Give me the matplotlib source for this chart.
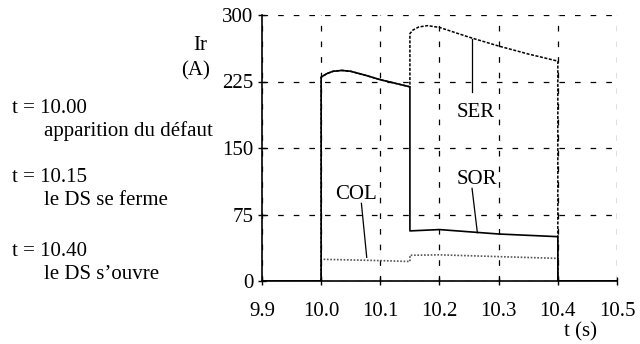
# Courant Ir dans les branches SER / SOR / COL autour du defaut
import numpy as np
import matplotlib
matplotlib.use('Agg')
import matplotlib.pyplot as plt

plt.rcParams['font.family'] = ['Liberation Serif', 'DejaVu Serif']
plt.rcParams['font.size'] = 15

# Data
t_ser = [9.9, 10.0, 10.0, 10.01, 10.02, 10.035, 10.05, 10.075, 10.1, 10.125, 10.15,
         10.15, 10.155, 10.165, 10.18, 10.2, 10.25, 10.3, 10.35, 10.4, 10.4, 10.5]
ser = [0, 0, 230, 234, 236.5, 237.5, 236.5, 232, 227, 223, 219,
       279, 283, 286.5, 288, 286, 275, 265, 256, 248, 0, 0]

t_sor = [9.9, 10.0, 10.0, 10.01, 10.02, 10.035, 10.05, 10.075, 10.1, 10.125, 10.15,
         10.15, 10.2, 10.25, 10.3, 10.35, 10.4, 10.4, 10.5]
sor = [0, 0, 230, 234, 236.5, 237.5, 236.5, 232, 227, 223, 219,
       56.5, 58, 55.5, 53, 51.5, 50, 0, 0]

t_col = [9.9, 10.0, 10.0, 10.1, 10.15, 10.15, 10.2, 10.3, 10.4, 10.4, 10.5]
col = [0, 0, 24.5, 23, 22, 29, 29.5, 27.5, 25.5, 0, 0]

xticks = [9.9, 10.0, 10.1, 10.2, 10.3, 10.4, 10.5]
yticks = [0, 75, 150, 225, 300]

events = ['t = 10.00', 't = 10.15', 't = 10.40']
event_txt = ['apparition du défaut', 'le DS se ferme', 'le DS s\u2019ouvre']

fig = plt.figure(figsize=(6.4, 3.44), dpi=100)
ax = fig.add_axes([262/640, 63/344, 355/640, 266/344])

ax.plot(t_col, col, color='#555555', lw=1.2, ls=(0, (1, 1)))
ax.plot(t_sor, sor, color='black', lw=1.2)
ax.plot(t_ser, ser, color='black', lw=1.1, ls=(0, (2, 1)))

ax.set_xlim(9.9, 10.5)
ax.set_ylim(0, 300)
ax.set_xticks(xticks)
ax.set_xticklabels(['%.1f' % v for v in xticks])
ax.set_yticks(yticks)
ax.tick_params(direction='inout', length=6, width=1)
ax.tick_params(axis='x', pad=12)
ax.tick_params(axis='y', pad=3)
ax.grid(True, color='black', lw=0.9, ls=(0, (4.5, 8)))
for s in ['top', 'right']:
    ax.spines[s].set_visible(False)
for s in ['left', 'bottom']:
    ax.spines[s].set_linewidth(1.2)

# curve labels with pointer lines
ax.text(10.262, 190, 'SER', ha='center', va='center')
ax.plot([10.255, 10.255], [273, 213], color='black', lw=0.9)
ax.text(10.263, 115, 'SOR', ha='center', va='center')
ax.plot([10.255, 10.264], [104.5, 54.5], color='black', lw=0.9)
ax.text(10.059, 97, 'COL', ha='center', va='center')
ax.plot([10.068, 10.077], [87.6, 26.7], color='black', lw=0.9)

# left side annotations
fig.text(200/640, 1 - 50/344, 'Ir', ha='center', va='baseline')
fig.text(196/640, 1 - 75/344, '(A)', ha='center', va='baseline')
ybase = [113, 182, 256]
for i in range(3):
    fig.text(12/640, 1 - ybase[i]/344, events[i], ha='left', va='baseline')
    fig.text(44/640, 1 - (ybase[i] + 23)/344, event_txt[i], ha='left', va='baseline')

fig.text(580/640, 1 - 332/344, 't (s)', ha='center', va='center')

fig.savefig('out.png', dpi=100)
